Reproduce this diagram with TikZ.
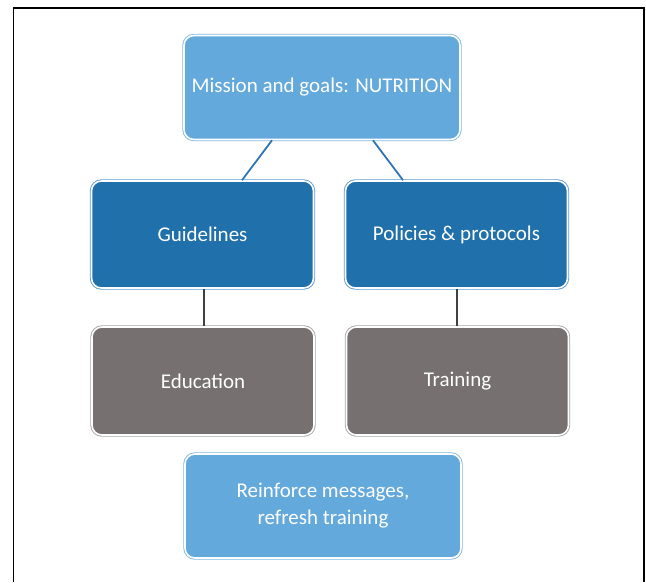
\documentclass[tikz,border=0pt]{standalone}
\usepackage{fontspec}
\setmainfont{Carlito}
\usepackage{tikz}
\usetikzlibrary{positioning}

\definecolor{lightblue}{HTML}{63A9DC}
\definecolor{darkblue}{HTML}{1F70AB}
\definecolor{rimblue}{HTML}{5B9BD5}
\definecolor{greybox}{HTML}{767170}
\definecolor{rimgrey}{HTML}{A6A6A6}
\definecolor{linkblue}{HTML}{2E75B6}
\definecolor{linkgrey}{HTML}{404040}

\tikzset{
  box/.style={rectangle, rounded corners=10pt, draw=white, line width=1.6pt,
    text=white, align=center, font=\fontsize{21}{27}\selectfont,
    minimum width=276pt, minimum height=104pt},
  goalbox/.style={box, fill=lightblue, preaction={draw=lightblue!80, line width=3.4pt}},
  stepbox/.style={box, fill=darkblue, minimum width=222pt, minimum height=107pt,
    preaction={draw=rimblue, line width=3.4pt}},
  actbox/.style={box, fill=greybox, minimum width=222pt, minimum height=108pt,
    preaction={draw=rimgrey, line width=3.4pt}},
  link/.style={line width=1.8pt}
}

\begin{document}
\begin{tikzpicture}[x=1pt, y=-1pt]
  \useasboundingbox (0,0) rectangle (646,582);

  % Frame
  \draw[line width=1.3pt] (13.5,582) -- (13.5,8) -- (644,8) -- (644,582);

  % Boxes
  \node[goalbox] (mission) at (322,87.5) {Mission and goals: NUTRITION};
  \node[stepbox] (guide) at (202.5,234.5) {Guidelines};
  \node[stepbox] (policy) at (456.5,234.5) {Policies \& protocols};
  \node[actbox] (edu) at (203,381) {Education};
  \node[actbox] (train) at (457.5,381) {Training};
  \node[goalbox] (refresh) at (323,506) {Reinforce messages,\\refresh training};

  % Links
  \draw[link, linkblue] (mission.south -| 272,0) -- (guide.north -| 242,0);
  \draw[link, linkblue] (mission.south -| 373,0) -- (policy.north -| 403,0);
  \draw[link, linkgrey] (guide.south -| 204,0) -- (edu.north -| 204,0);
  \draw[link, linkgrey] (policy.south -| 457,0) -- (train.north -| 457,0);
\end{tikzpicture}
\end{document}
